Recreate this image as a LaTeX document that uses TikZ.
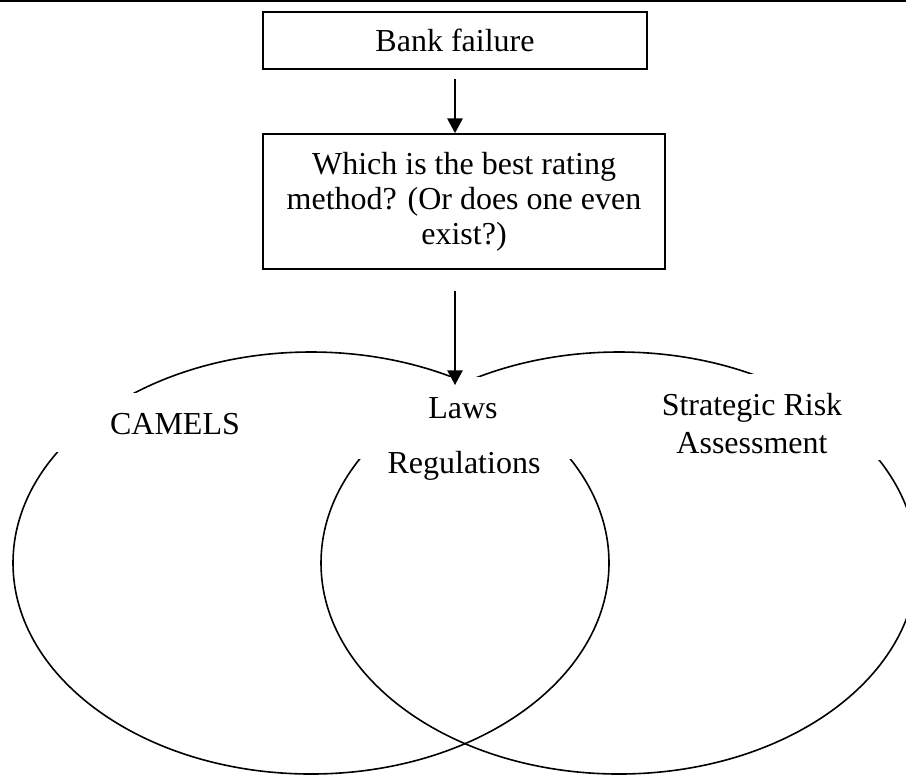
\documentclass[tikz,border=0pt]{standalone}
\usepackage{fontspec}
\setmainfont{Liberation Serif}
\usetikzlibrary{arrows.meta}

\begin{document}
\begin{tikzpicture}[x=0.75pt, y=-0.75pt]
  \tikzset{
    box/.style={draw, line width=1.3pt, align=center, inner sep=0pt,
      font=\fontsize{24}{26.25}\selectfont},
    lbl/.style={anchor=base, inner sep=0pt, font=\fontsize{24}{28}\selectfont},
    ring/.style={line width=1.2pt},
    mask/.style={fill=white},
    arrow/.style={line width=1.2pt, -{Triangle[length=11pt, width=11.5pt]}}
  }
  \clip (0,0) rectangle (906,776);
  \useasboundingbox (0,0) rectangle (906,776);
  \draw[line width=1.4pt] (0,1) -- (906,1);

  % the two rings
  \draw[ring] (311,563) ellipse [x radius=298, y radius=211];
  \draw[ring] (619,563) ellipse [x radius=298, y radius=211];

  % text boxes hide the rings
  \fill[mask] (40,393) rectangle (310,452);
  \fill[mask] (345,377) rectangle (581,459);
  \fill[mask] (615,374) rectangle (890,460);

  \node[box, minimum width=288pt, minimum height=42.75pt] (bank) at (455,40.5) {Bank failure};
  \node[box, minimum width=301.5pt, minimum height=101.25pt] (question) at (464,201.5)
    {Which is the best rating\\method? (Or does one even\\exist?)};

  \node[lbl] (camels) at (175,434) {CAMELS};
  \node[lbl] (laws) at (463,418) {Laws};
  \node[lbl] (regs) at (464,473) {Regulations};
  \node[lbl] (risk) at (752,415) {Strategic Risk};
  \node[lbl] (assess) at (752,453) {Assessment};

  \coordinate (tip) at (455,385);
  \draw[arrow, shorten <=6.75pt] (bank.south) -- (bank.south |- question.north);
  \draw[arrow, shorten <=15.75pt] (bank.south |- question.south) -- (tip);
\end{tikzpicture}
\end{document}
